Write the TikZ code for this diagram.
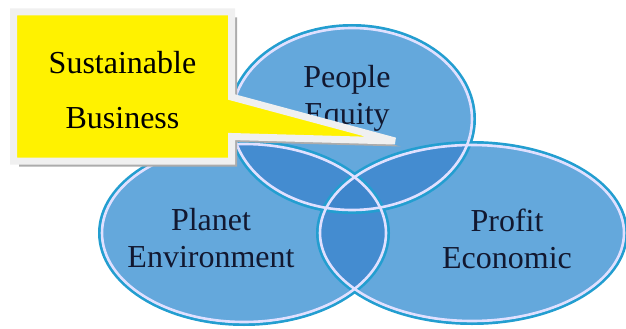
\documentclass[tikz,border=0pt]{standalone}
\usepackage{fontspec}
\setmainfont{Liberation Serif}
\usetikzlibrary{shadows}
\definecolor{venn}{RGB}{100,168,220}
\definecolor{venndark}{RGB}{68,140,208}
\definecolor{venndeep}{RGB}{62,134,204}
\definecolor{vennrim}{RGB}{35,158,208}
\definecolor{ink}{RGB}{18,24,48}
\def\peoplepath{(352,119) ellipse [x radius=120,y radius=91]}
\def\planetpath{(244,233) ellipse [x radius=142,y radius=89]}
\def\profitpath{(472,233) ellipse [x radius=152,y radius=88]}
\def\peoplerim{(352,119) ellipse [x radius=122.5,y radius=93.5]}
\def\planetrim{(244,233) ellipse [x radius=144.5,y radius=91.5]}
\def\profitrim{(472,233) ellipse [x radius=154.5,y radius=90.5]}
\begin{document}
\begin{tikzpicture}[x=1pt,y=-1pt,
	lbl/.style={font=\fontsize{32}{37}\selectfont,text=ink,align=center,inner sep=0pt},
	rim/.style={draw=vennrim,line width=3pt},
	edge/.style={draw=white!88!blue,line width=2.6pt},
	note/.style={fill=yellow,draw=gray!12,line width=7pt,line join=miter,miter limit=4,
		drop shadow={shadow xshift=5.5pt,shadow yshift=-5.5pt,fill=gray!65,opacity=1}},
	notetext/.style={font=\fontsize{32}{55}\selectfont,align=center,inner sep=0pt}
	]
	\useasboundingbox (0,0) rectangle (626,329);
	\fill[venn] \peoplepath;
	\fill[venn] \planetpath;
	\fill[venn] \profitpath;
	\begin{scope}
		\clip \peoplepath;
		\fill[venndark] \planetpath;
		\fill[venndark] \profitpath;
	\end{scope}
	\begin{scope}
		\clip \planetpath;
		\fill[venndark] \profitpath;
	\end{scope}
	\begin{scope}
		\clip \peoplepath;
		\clip \planetpath;
		\fill[venndeep] \profitpath;
	\end{scope}
	\path[rim] \peoplerim;
	\path[rim] \planetrim;
	\path[rim] \profitrim;
	\path[edge] \peoplepath;
	\path[edge] \planetpath;
	\path[edge] \profitpath;

	\node[lbl] (people) at (347,98.5) {People\\Equity};
	\node[lbl] (planet) at (211,238.5) {Planet\\Environment};
	\node[lbl] (profit) at (507,239) {Profit\\Economic};

	\path[note] (13.5,12) -- (231.5,12) -- (231.5,97) -- (395,141)
		-- (231.5,136.5) -- (231.5,161) -- (13.5,161) -- cycle;
	\node[notetext] (business) at (122.5,90) {Sustainable\\Business};
\end{tikzpicture}
\end{document}
